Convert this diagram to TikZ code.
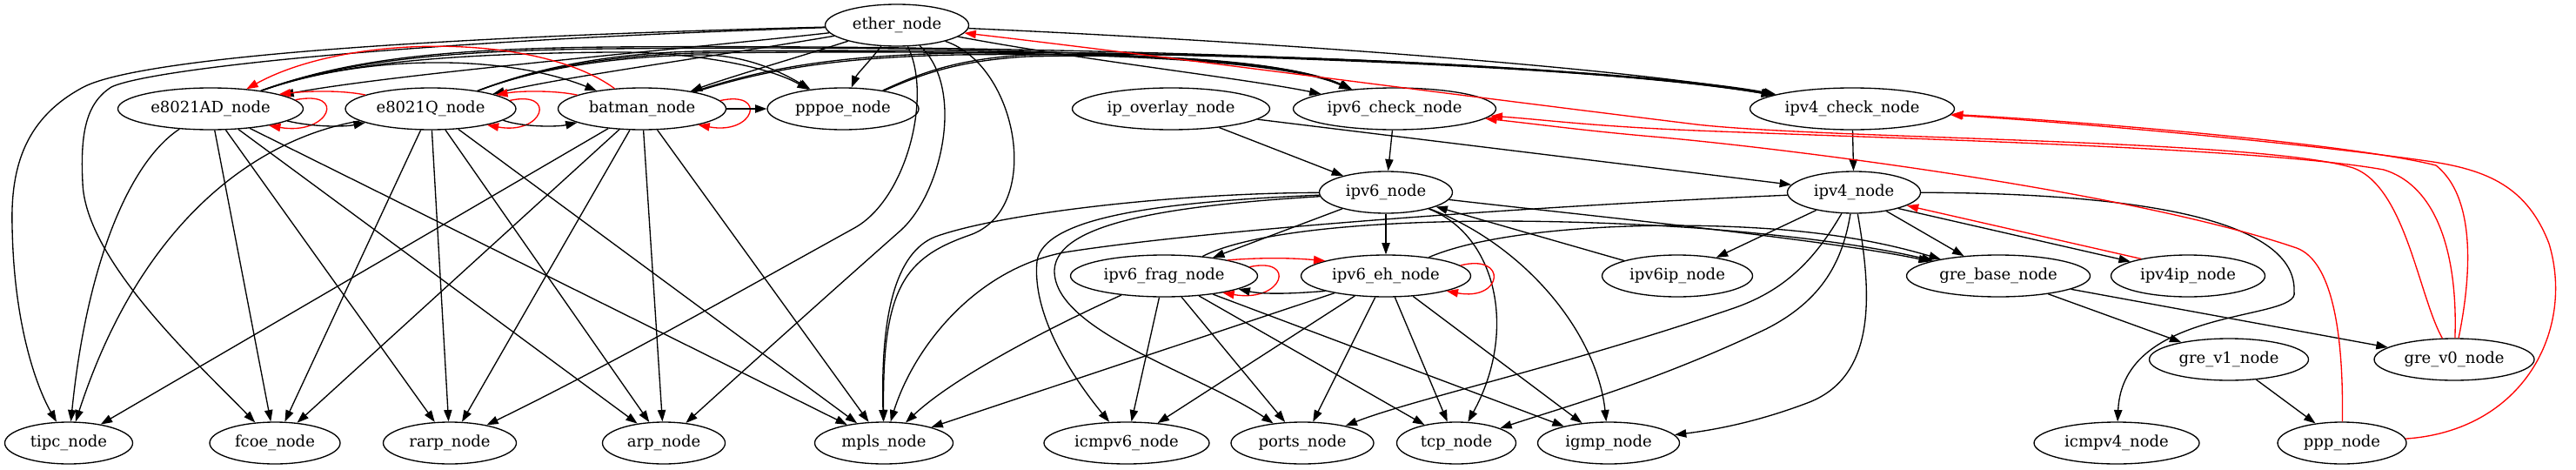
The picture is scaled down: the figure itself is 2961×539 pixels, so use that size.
\documentclass[tikz,border=0pt]{standalone}
\usepackage{fontspec}
\setmainfont{DejaVu Serif}
\usetikzlibrary{shapes.geometric,arrows.meta}
\begin{document}
\begin{tikzpicture}[x=0.75pt,y=-0.75pt,
  nd/.style={ellipse,draw,line width=1pt,minimum height=36pt,inner sep=0pt,font=\fontsize{13.5}{16}\selectfont},
  wd/.style={minimum width=#1*0.75pt},
  e/.style={line width=1pt,-{Triangle[length=10pt,width=7pt]}},
  r/.style={e,red}]
\path[use as bounding box] (0,0) rectangle (2961,539);
% nodes
\node[nd,wd=165] (ether) at (1031,29) {ether\_node};
\node[nd,wd=213] (AD) at (242,125) {e8021AD\_node};
\node[nd,wd=196] (Q) at (495,125) {e8021Q\_node};
\node[nd,wd=193] (batman) at (738,125) {batman\_node};
\node[nd,wd=174] (pppoe) at (969,125) {pppoe\_node};
\node[nd,wd=227] (overlay) at (1346,125) {ip\_overlay\_node};
\node[nd,wd=233] (v6c) at (1603,125) {ipv6\_check\_node};
\node[nd,wd=235] (v4c) at (2129,125) {ipv4\_check\_node};
\node[nd,wd=153] (v6) at (1593,221) {ipv6\_node};
\node[nd,wd=153] (v4) at (2131,221) {ipv4\_node};
\node[nd,wd=215] (frag) at (1338,317) {ipv6\_frag\_node};
\node[nd,wd=195] (eh) at (1593,317) {ipv6\_eh\_node};
\node[nd,wd=173] (v6ip) at (1928,317) {ipv6ip\_node};
\node[nd,wd=211] (greb) at (2297,317) {gre\_base\_node};
\node[nd,wd=177] (v4ip) at (2515,317) {ipv4ip\_node};
\node[nd,wd=183] (grev1) at (2562,413) {gre\_v1\_node};
\node[nd,wd=184] (grev0) at (2821,413) {gre\_v0\_node};
\node[nd,wd=147] (tipc) at (79,509) {tipc\_node};
\node[nd,wd=150] (fcoe) at (316,509) {fcoe\_node};
\node[nd,wd=153] (rarp) at (517,509) {rarp\_node};
\node[nd,wd=141] (arp) at (763,509) {arp\_node};
\node[nd,wd=159] (mpls) at (1016,509) {mpls\_node};
\node[nd,wd=190] (icmp6) at (1295,509) {icmpv6\_node};
\node[nd,wd=164] (ports) at (1497,509) {ports\_node};
\node[nd,wd=137] (tcp) at (1674,509) {tcp\_node};
\node[nd,wd=163] (igmp) at (1849,509) {igmp\_node};
\node[nd,wd=190] (icmp4) at (2433,509) {icmpv4\_node};
\node[nd,wd=148] (ppp) at (2692,509) {ppp\_node};
% ether
\draw[e] (ether) .. controls (800,55) and (450,85) .. (AD);
\draw[e] (ether) .. controls (820,65) and (650,88) .. (Q);
\draw[e] (ether) .. controls (920,65) and (840,88) .. (batman);
\draw[e] (ether) .. controls (1000,70) and (985,85) .. (pppoe);
\draw[e] (ether) .. controls (1250,70) and (1430,90) .. (v6c);
\draw[e] (ether) .. controls (1400,45) and (1850,75) .. (v4c);
\draw[e] (ether) .. controls (400,45) and (150,72) .. (96,100) .. controls (30,135) and (12,190) .. (14,260) .. controls (16,380) and (45,450) .. (tipc);
\draw[e] (ether) .. controls (450,48) and (170,80) .. (128,100) .. controls (100,118) and (92,150) .. (95,210) .. controls (98,300) and (230,420) .. (fcoe);
\draw[e] (ether) .. controls (1072,110) and (1042,229) .. (982,262) .. controls (850,335) and (700,420) .. (rarp);
\draw[e] (ether) .. controls (1110,100) and (1083,222) .. (1035,265) .. controls (950,340) and (850,430) .. (arp);
\draw[e] (ether) .. controls (1170,75) and (1200,240) .. (1115,270) .. controls (1040,296) and (1014,330) .. (mpls);
% e8021AD
\draw[r] (AD.6) .. controls +(60,-12) and +(70,12) .. (AD.-16);
\draw[e] (AD.-9) .. controls (360,146) and (395,146) .. (Q.-168);
\draw[e] (AD) .. controls (420,62) and (580,62) .. (batman);
\draw[e] (AD) .. controls (385,74) and (500,62) .. (700,60) .. controls (790,59) and (880,75) .. (pppoe);
\draw[e] (AD) .. controls (390,72) and (500,58) .. (700,56) .. controls (1100,52) and (1460,60) .. (v6c);
\draw[e] (AD) .. controls (395,70) and (500,56) .. (700,54) .. controls (1300,50) and (1880,78) .. (v4c);
\draw[e] (AD) .. controls (150,185) and (100,300) .. (tipc);
\draw[e] (AD) -- (fcoe);
\draw[e] (AD) -- (rarp);
\draw[e] (AD) -- (arp);
\draw[e] (AD) -- (mpls);
% e8021Q
\draw[r] (Q.168) .. controls (395,104) and (360,104) .. (AD.12);
\draw[r] (Q.6) .. controls +(55,-12) and +(65,12) .. (Q.-16);
\draw[e] (Q.-9) .. controls (600,146) and (640,146) .. (batman.-168);
\draw[e] (Q) .. controls (600,85) and (680,66) .. (800,63) .. controls (850,62) and (890,78) .. (pppoe);
\draw[e] (Q) .. controls (600,85) and (680,64) .. (800,61) .. controls (1150,57) and (1460,62) .. (v6c);
\draw[e] (Q) .. controls (602,84) and (680,62) .. (800,59) .. controls (1350,53) and (1880,80) .. (v4c);
\draw[e] (Q) .. controls (290,160) and (160,260) .. (tipc);
\draw[e] (Q) -- (fcoe);
\draw[e] (Q) -- (rarp);
\draw[e] (Q) -- (arp);
\draw[e] (Q) -- (mpls);
% batman
\draw[r] (batman.168) .. controls (640,104) and (600,104) .. (Q.12);
\draw[r] (batman) .. controls (620,38) and (400,38) .. (AD);
\draw[r] (batman.6) .. controls +(55,-12) and +(65,12) .. (batman.-16);
\draw[e] (batman) -- (pppoe);
\draw[e] (batman) .. controls (880,80) and (960,66) .. (1100,63) .. controls (1250,61) and (1470,64) .. (v6c);
\draw[e] (batman) .. controls (880,78) and (960,64) .. (1100,61) .. controls (1450,57) and (1880,82) .. (v4c);
\draw[e] (batman) -- (tipc);
\draw[e] (batman) -- (fcoe);
\draw[e] (batman) -- (rarp);
\draw[e] (batman) -- (arp);
\draw[e] (batman) -- (mpls);
% pppoe
\draw[e] (pppoe) .. controls (1060,85) and (1100,70) .. (1180,65) .. controls (1300,62) and (1470,66) .. (v6c);
\draw[e] (pppoe) .. controls (1060,83) and (1100,68) .. (1180,63) .. controls (1500,59) and (1880,82) .. (v4c);
% checks and overlay
\draw[e] (v6c) -- (v6);
\draw[e] (v4c) -- (v4);
\draw[e] (overlay) -- (v6);
\draw[e] (overlay) -- (v4);
% ipv6
\draw[e] (v6) -- (frag);
\draw[e] (v6) -- (eh);
\draw[e] (v6) .. controls (1350,222) and (1150,245) .. (1075,272) .. controls (1030,290) and (1012,360) .. (mpls);
\draw[e] (v6) .. controls (1330,232) and (1200,250) .. (1192,300) .. controls (1186,360) and (1230,430) .. (icmp6);
\draw[e] (v6) .. controls (1350,236) and (1215,255) .. (1212,310) .. controls (1210,380) and (1380,430) .. (ports);
\draw[e] (v6) .. controls (1720,270) and (1745,380) .. (tcp);
\draw[e] (v6) .. controls (1750,280) and (1835,380) .. (igmp);
\draw[e] (v6) .. controls (1800,245) and (2100,275) .. (greb);
\draw[e] (v6ip) -- (v6);
% ipv6_frag
\draw[r] (frag.6) .. controls +(55,-12) and +(70,12) .. (frag.-16);
\draw[r] (frag.14) .. controls (1450,296) and (1480,296) .. (eh.166);
\draw[e] (frag) .. controls (1220,370) and (1100,430) .. (mpls);
\draw[e] (frag) -- (icmp6);
\draw[e] (frag) -- (ports);
\draw[e] (frag) -- (tcp);
\draw[e] (frag) -- (igmp);
\draw[e] (frag) .. controls (1460,255) and (1700,245) .. (1950,262) .. controls (2080,272) and (2160,285) .. (greb);
% ipv6_eh
\draw[r] (eh.8) .. controls +(55,-14) and +(65,12) .. (eh.-14);
\draw[e] (eh.-166) .. controls (1480,338) and (1450,338) .. (frag.-10);
\draw[e] (eh) -- (mpls);
\draw[e] (eh) -- (icmp6);
\draw[e] (eh) -- (ports);
\draw[e] (eh) -- (tcp);
\draw[e] (eh) -- (igmp);
\draw[e] (eh) .. controls (1720,262) and (1900,252) .. (2050,264) .. controls (2130,271) and (2180,283) .. (greb);
% ipv4
\draw[e] (v4) -- (v6ip);
\draw[e] (v4) -- (greb);
\draw[e] (v4.-20) -- (v4ip.166);
\draw[r] (v4ip.160) -- (v4.-14);
\draw[e] (v4) .. controls (2470,222) and (2640,255) .. (2637,335) .. controls (2645,370) and (2440,350) .. (icmp4);
\draw[e] (v4) .. controls (2085,300) and (2050,335) .. (1990,355) .. controls (1800,420) and (1620,460) .. (ports);
\draw[e] (v4) .. controls (2118,300) and (2095,345) .. (2030,378) .. controls (1900,440) and (1790,470) .. (tcp);
\draw[e] (v4) .. controls (2150,330) and (2160,430) .. (2080,462) .. controls (2020,485) and (1970,494) .. (igmp);
\draw[e] (v4) .. controls (1800,235) and (1400,262) .. (1223,290) .. controls (1120,310) and (1050,400) .. (mpls);
% gre
\draw[e] (greb) -- (grev1);
\draw[e] (greb) -- (grev0);
\draw[e] (grev1) -- (ppp);
% red back edges
\draw[r] (grev0) .. controls (2780,340) and (2765,215) .. (2705,193) .. controls (2600,160) and (2100,160) .. (1950,143) .. controls (1600,100) and (1300,60) .. (ether);
\draw[r] (grev0) .. controls (2825,300) and (2805,215) .. (2740,195) .. controls (2600,170) and (2200,160) .. (1950,150) .. controls (1830,145) and (1780,138) .. (v6c);
\draw[r] (grev0) .. controls (2838,330) and (2850,230) .. (2800,190) .. controls (2700,165) and (2400,140) .. (v4c);
\draw[r] (ppp) .. controls (2694,380) and (2680,300) .. (2640,285) .. controls (2450,220) and (2050,170) .. (1900,157) .. controls (1820,150) and (1770,143) .. (v6c);
\draw[r] (ppp) .. controls (2900,495) and (2960,380) .. (2930,280) .. controls (2905,215) and (2860,195) .. (2790,185) .. controls (2650,165) and (2400,142) .. (v4c);
\end{tikzpicture}
\end{document}
